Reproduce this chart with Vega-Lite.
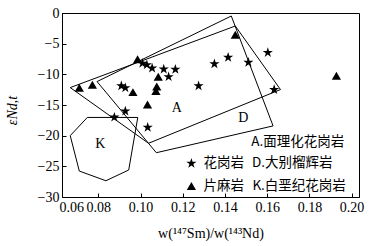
{
  "$schema": "https://vega.github.io/schema/vega-lite/v6.json",
  "autosize": "none",
  "width": 297,
  "height": 184,
  "padding": {"left": 62, "top": 13, "right": 15, "bottom": 49},
  "background": "white",
  "config": {
    "view": {"stroke": "black", "strokeWidth": 1},
    "font": "Liberation Serif",
    "axis": {
      "domainColor": "black",
      "tickColor": "black",
      "labelColor": "black",
      "titleColor": "black",
      "grid": false,
      "labelFont": "Liberation Serif",
      "labelFontSize": 14,
      "titleFont": "Liberation Serif",
      "titleFontSize": 14,
      "titleFontWeight": "normal",
      "tickSize": -4,
      "labelPadding": 7
    }
  },
  "datasets": {
    "pts": [
      {"type": "片麻岩", "x": 0.0710, "y": -12.2},
      {"type": "片麻岩", "x": 0.0772, "y": -11.7},
      {"type": "片麻岩", "x": 0.0986, "y": -7.55},
      {"type": "片麻岩", "x": 0.0964, "y": -12.9},
      {"type": "片麻岩", "x": 0.1084, "y": -10.4},
      {"type": "片麻岩", "x": 0.1077, "y": -12.0},
      {"type": "片麻岩", "x": 0.1073, "y": -12.7},
      {"type": "片麻岩", "x": 0.1033, "y": -14.9},
      {"type": "片麻岩", "x": 0.1449, "y": -3.55},
      {"type": "片麻岩", "x": 0.1928, "y": -10.25},
      {"type": "花岗岩", "x": 0.0909, "y": -11.9},
      {"type": "花岗岩", "x": 0.0928, "y": -12.2},
      {"type": "花岗岩", "x": 0.1009, "y": -8.2},
      {"type": "花岗岩", "x": 0.1030, "y": -8.45},
      {"type": "花岗岩", "x": 0.1055, "y": -9.0},
      {"type": "花岗岩", "x": 0.1110, "y": -9.15},
      {"type": "花岗岩", "x": 0.1133, "y": -10.4},
      {"type": "花岗岩", "x": 0.1165, "y": -9.2},
      {"type": "花岗岩", "x": 0.1275, "y": -11.9},
      {"type": "花岗岩", "x": 0.1350, "y": -8.3},
      {"type": "花岗岩", "x": 0.1415, "y": -7.25},
      {"type": "花岗岩", "x": 0.1511, "y": -8.05},
      {"type": "花岗岩", "x": 0.1603, "y": -6.45},
      {"type": "花岗岩", "x": 0.1633, "y": -12.5},
      {"type": "花岗岩", "x": 0.0928, "y": -16.0},
      {"type": "花岗岩", "x": 0.0876, "y": -17.0},
      {"type": "花岗岩", "x": 0.1034, "y": -18.65}
    ],
    "polys": [
      {"poly": "A", "i": 0, "x": 0.0667, "y": -12.16},
      {"poly": "A", "i": 1, "x": 0.1449, "y": -2.12},
      {"poly": "A", "i": 2, "x": 0.1663, "y": -12.48},
      {"poly": "A", "i": 3, "x": 0.1038, "y": -21.24},
      {"poly": "A", "i": 4, "x": 0.0667, "y": -12.16},
      {"poly": "D", "i": 0, "x": 0.0794, "y": -11.18},
      {"poly": "D", "i": 1, "x": 0.1430, "y": -0.49},
      {"poly": "D", "i": 2, "x": 0.1628, "y": -18.41},
      {"poly": "D", "i": 3, "x": 0.1075, "y": -22.78},
      {"poly": "D", "i": 4, "x": 0.0794, "y": -11.18},
      {"poly": "K", "i": 0, "x": 0.0748, "y": -17.03},
      {"poly": "K", "i": 1, "x": 0.0987, "y": -17.03},
      {"poly": "K", "i": 2, "x": 0.0944, "y": -25.6},
      {"poly": "K", "i": 3, "x": 0.0836, "y": -27.35},
      {"poly": "K", "i": 4, "x": 0.0710, "y": -25.77},
      {"poly": "K", "i": 5, "x": 0.0667, "y": -20.0},
      {"poly": "K", "i": 6, "x": 0.0748, "y": -17.03}
    ],
    "labels": [
      {"text": "A", "x": 0.1172, "y": -15.5},
      {"text": "D", "x": 0.1487, "y": -17.1},
      {"text": "K", "x": 0.0809, "y": -21.4}
    ],
    "legendText": [
      {"text": "A.面理化花岗岩", "x": 0.1525, "y": -21.08},
      {"text": "花岗岩", "x": 0.1298, "y": -24.51},
      {"text": "D.大别榴辉岩", "x": 0.1528, "y": -24.51},
      {"text": "片麻岩", "x": 0.1298, "y": -28.2},
      {"text": "K.白垩纪花岗岩", "x": 0.1530, "y": -28.2}
    ],
    "legendSym": [
      {"type": "花岗岩", "x": 0.1241, "y": -24.51},
      {"type": "片麻岩", "x": 0.1241, "y": -28.2}
    ]
  },
  "encoding": {
    "x": {
      "field": "x", "type": "quantitative",
      "scale": {"domain": [0.0628, 0.2035], "nice": false, "zero": false},
      "axis": {
        "values": [0.0628, 0.08, 0.1, 0.12, 0.14, 0.16, 0.18, 0.2],
        "labelExpr": "datum.value < 0.07 ? '0.06' : format(datum.value, '.2f')",
        "tickOpacity": {"condition": {"test": "datum.value < 0.07", "value": 0}, "value": 1},
        "labelOffset": {"condition": {"test": "datum.value < 0.07", "value": -3}, "value": 0},
        "labelBound": false,
        "labelOverlap": false,
        "title": "w(¹⁴⁷Sm)/w(¹⁴³Nd)",
        "titleY": 36,
        "titleBaseline": "middle"
      }
    },
    "y": {
      "field": "y", "type": "quantitative",
      "scale": {"domain": [-30, 0], "nice": false, "zero": false},
      "axis": {
        "values": [-30, -25, -20, -15, -10, -5, 0],
        "title": "εNd,t",
        "titleFontStyle": "italic",
        "titleX": -50,
        "titleY": 97,
        "titleAlign": "center",
        "titleBaseline": "middle",
        "titleAngle": -90
      }
    }
  },
  "layer": [
    {
      "data": {"name": "polys"},
      "mark": {"type": "line", "color": "black", "strokeWidth": 1},
      "encoding": {
        "detail": {"field": "poly", "type": "nominal"},
        "order": {"field": "i", "type": "quantitative"}
      }
    },
    {
      "data": {"name": "pts"},
      "mark": {"type": "point", "filled": true, "color": "black", "opacity": 1},
      "encoding": {
        "shape": {
          "field": "type", "type": "nominal",
          "scale": {"domain": ["花岗岩", "片麻岩"], "range": ["M0,-1L0.2245,-0.309L0.951,-0.309L0.363,0.118L0.588,0.809L0,0.382L-0.588,0.809L-0.363,0.118L-0.951,-0.309L-0.2245,-0.309Z", "triangle-up"]},
          "legend": null
        },
        "size": {
          "field": "type", "type": "nominal",
          "scale": {"domain": ["花岗岩", "片麻岩"], "range": [115, 85]},
          "legend": null
        }
      }
    },
    {
      "data": {"name": "legendSym"},
      "mark": {"type": "point", "filled": true, "color": "black", "opacity": 1},
      "encoding": {
        "shape": {"field": "type", "type": "nominal", "legend": null},
        "size": {"field": "type", "type": "nominal", "legend": null}
      }
    },
    {
      "data": {"name": "labels"},
      "mark": {"type": "text", "font": "Liberation Serif", "fontSize": 14, "color": "black", "align": "center", "baseline": "middle"},
      "encoding": {"text": {"field": "text", "type": "nominal"}}
    },
    {
      "data": {"name": "legendText"},
      "mark": {"type": "text", "font": "Noto Sans CJK SC", "fontSize": 13.5, "color": "black", "align": "left", "baseline": "middle"},
      "encoding": {"text": {"field": "text", "type": "nominal"}}
    }
  ]
}
